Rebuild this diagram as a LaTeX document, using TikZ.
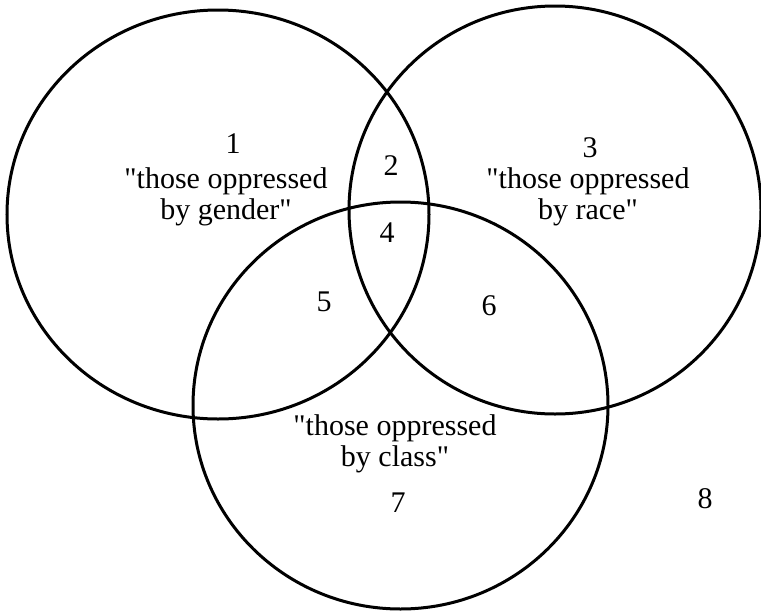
\documentclass[tikz,border=0pt]{standalone}
\usepackage{fontspec}
\setmainfont{Liberation Serif}[Ligatures=TeXOff]
\begin{document}
\begin{tikzpicture}[x=1pt,y=-1pt,
  setline/.style={draw=black,line width=3pt},
  lbl/.style={font=\fontsize{30}{31}\selectfont,align=center,inner sep=0pt}]
\useasboundingbox (0,0) rectangle (761,611);
% circles
\draw[setline] (218,214.5) ellipse [x radius=211pt, y radius=204.5pt];
\draw[setline] (555,210) ellipse [x radius=206pt, y radius=204pt];
\draw[setline] (400.5,405.5) ellipse [x radius=207.5pt, y radius=203.5pt];
% region labels
\node[lbl] (n1) at (233,144) {1};
\node[lbl] (t1) at (226,197) {"those oppressed\\by gender"};
\node[lbl] (n2) at (391,166) {2};
\node[lbl] (n3) at (590,148) {3};
\node[lbl] (t3) at (588,197) {"those oppressed\\by race"};
\node[lbl] (n4) at (387,233) {4};
\node[lbl] (n5) at (324,302) {5};
\node[lbl] (n6) at (489,306) {6};
\node[lbl] (t7) at (395,444) {"those oppressed\\by class"};
\node[lbl] (n7) at (398,503) {7};
\node[lbl] (n8) at (705,499) {8};
\end{tikzpicture}
\end{document}
